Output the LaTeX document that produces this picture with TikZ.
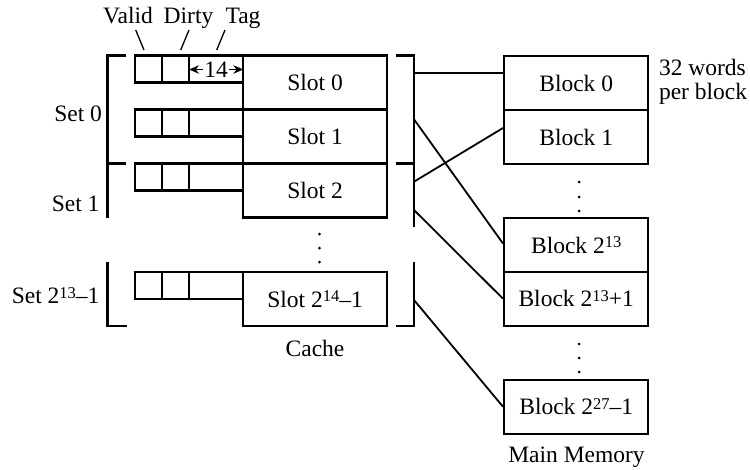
\documentclass[tikz,border=0pt]{standalone}
\usepackage{fontspec}
\setmainfont{Liberation Serif}
\usetikzlibrary{arrows.meta,calc}
\newcommand\myexp[1]{\raisebox{5.5pt}{\fontsize{16.5}{16.5}\selectfont #1}}
\begin{document}
\begin{tikzpicture}[x=1pt,y=-1pt, line width=2.1pt,
  font=\fontsize{23.5}{27}\selectfont,
  box/.style={draw, line width=2.1pt, minimum width=143.4pt, minimum height=54pt, inner sep=0pt, anchor=center},
  mbox/.style={box, minimum width=144.3pt},
  lbl/.style={inner sep=0pt},
  thinl/.style={line width=1.3pt},
  conn/.style={line width=1.8pt}]
\useasboundingbox (0,0) rectangle (750,469);

% cache slots
\node[box] (s0) at (315,82.5) {Slot 0};
\node[box] (s1) at (315,136.5) {Slot 1};
\node[box] (s2) at (315,190.5) {Slot 2};
\node[box] (sl) at (315,299) {Slot 2\myexp{14}--1};

% valid / dirty / tag boxes
\foreach \t in {55.5,109.5,163.5,272} {
  \draw (135,\t) rectangle (162,\t+27);
  \draw (162,\t) rectangle (189,\t+27);
  \draw (189,\t) rectangle (243.3,\t+27);
}

% 14 arrow
\node[lbl] (n14) at (216,69.5) {14};
\draw[thinl,-{Stealth[length=10pt,width=8.5pt]}] (n14.west) -- (189,69.5);
\draw[thinl,-{Stealth[length=10pt,width=8.5pt]}] (n14.east) -- (243.3,69.5);

% field labels
\node[lbl, anchor=base] (valid) at (128,23) {Valid};
\node[lbl, anchor=base] (dirty) at (188.5,23) {Dirty};
\node[lbl, anchor=base] (tag) at (243,23) {Tag};
\draw[thinl] (135.7,30) -- (144,50);
\draw[thinl] (189,30) -- (180.7,50);
\draw[thinl] (225,30) -- (216.7,50);

% brackets
\draw (126,55.5) -- (107.5,55.5) -- (107.5,163.5);
\draw (126,163.5) -- (107.5,163.5) -- (107.5,218);
\draw (107.5,262) -- (107.5,326) -- (127,326);
\draw (396,55.5) -- (414,55.5) -- (414,227);
\draw (396,163.5) -- (414,163.5);
\draw (414,262) -- (414,326) -- (396,326);

% set labels
\node[lbl, anchor=base east] (set0) at (103,121) {Set 0};
\node[lbl, anchor=base east] (set1) at (100.5,211) {Set 1};
\node[lbl, anchor=base east] (setl) at (100.5,303.5) {Set 2\myexp{13}--1};

% cache dots
\foreach \y in {234,248,262} \fill (319.5,\y) circle (1.5pt);
\node[lbl] (cache) at (315,348) {Cache};

% main memory blocks
\node[mbox] (b0) at (576.2,83) {Block 0};
\node[mbox] (b1) at (576.2,137) {Block 1};
\node[mbox] (b213) at (576.2,245) {Block 2\myexp{13}};
\node[mbox] (b2131) at (576.2,298.7) {Block 2\myexp{13}+1};
\node[mbox] (b227) at (576.2,406.7) {Block 2\myexp{27}--1};
\foreach \y in {182,197,211} \fill (579,\y) circle (1.5pt);
\foreach \y in {344,358,372} \fill (579,\y) circle (1.5pt);
\node[lbl, anchor=base] (mm) at (576.5,462) {Main Memory};
\node[lbl, anchor=base west] (w1) at (658,75) {32 words};
\node[lbl, anchor=base west] (w2) at (658,99) {per block};

% connectors
\coordinate (c0) at (414,73.3);
\coordinate (c1) at (414,119.3);
\coordinate (c2) at (414,181.7);
\coordinate (c3) at (414,210);
\coordinate (c4) at (414,300);
\draw[conn] (c0) -- (c0 -| b0.west);
\draw[conn] (c1) -- ([yshift=1.5pt]b213.west);
\draw[conn] (c2) -- ([yshift=9pt]b1.west);
\draw[conn] (c3) -- (b2131.west);
\draw[conn] (c4) -- (b227.west);
\end{tikzpicture}
\end{document}
